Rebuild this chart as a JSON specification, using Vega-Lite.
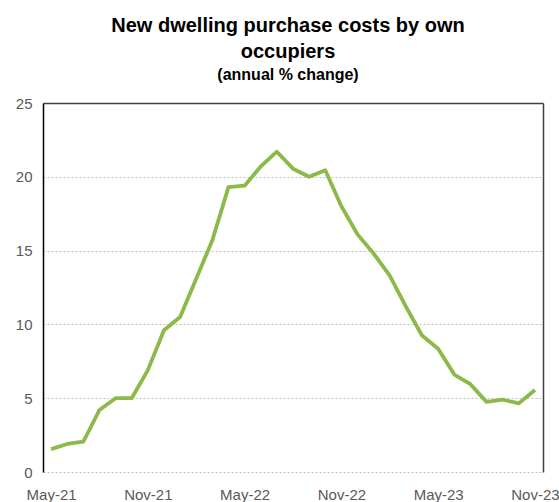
{
  "$schema": "https://vega.github.io/schema/vega-lite/v6.json",
  "width": 500,
  "height": 369,
  "autosize": {"type": "none"},
  "padding": {"left": 43, "top": 103, "right": 16, "bottom": 30},
  "background": "white",
  "title": {
    "text": ["New dwelling purchase costs by own", "occupiers"],
    "subtitle": "(annual % change)",
    "anchor": "middle",
    "dx": -5,
    "font": "Liberation Sans",
    "fontSize": 20,
    "fontWeight": "bold",
    "color": "#000000",
    "lineHeight": 26,
    "subtitleFont": "Liberation Sans",
    "subtitleFontSize": 16,
    "subtitleFontWeight": "bold",
    "subtitleColor": "#000000",
    "subtitlePadding": 5,
    "offset": 13
  },
  "config": {
    "view": {"stroke": null},
    "axis": {"labelFont": "Liberation Sans", "labelColor": "#595959", "labelFontSize": 15}
  },
  "data": {
    "values": [
      {"month": "May-21", "value": 1.55},
      {"month": "Jun-21", "value": 1.9},
      {"month": "Jul-21", "value": 2.05},
      {"month": "Aug-21", "value": 4.2},
      {"month": "Sep-21", "value": 5.0},
      {"month": "Oct-21", "value": 5.0},
      {"month": "Nov-21", "value": 6.9},
      {"month": "Dec-21", "value": 9.6},
      {"month": "Jan-22", "value": 10.5},
      {"month": "Feb-22", "value": 13.1},
      {"month": "Mar-22", "value": 15.7},
      {"month": "Apr-22", "value": 19.3},
      {"month": "May-22", "value": 19.4},
      {"month": "Jun-22", "value": 20.7},
      {"month": "Jul-22", "value": 21.7},
      {"month": "Aug-22", "value": 20.55},
      {"month": "Sep-22", "value": 20.0},
      {"month": "Oct-22", "value": 20.45},
      {"month": "Nov-22", "value": 18.0},
      {"month": "Dec-22", "value": 16.1},
      {"month": "Jan-23", "value": 14.8},
      {"month": "Feb-23", "value": 13.3},
      {"month": "Mar-23", "value": 11.2},
      {"month": "Apr-23", "value": 9.25},
      {"month": "May-23", "value": 8.35},
      {"month": "Jun-23", "value": 6.6},
      {"month": "Jul-23", "value": 5.95},
      {"month": "Aug-23", "value": 4.75},
      {"month": "Sep-23", "value": 4.9},
      {"month": "Oct-23", "value": 4.65},
      {"month": "Nov-23", "value": 5.55}
    ]
  },
  "layer": [
    {
      "mark": {"type": "line", "color": "#8db84a", "strokeWidth": 3.8, "strokeJoin": "round"},
      "encoding": {
        "x": {
          "field": "month", "type": "ordinal", "sort": null,
          "scale": {"type": "point", "padding": 0.5},
          "axis": {
            "orient": "bottom", "title": null, "values": ["May-21", "Nov-21", "May-22", "Nov-22", "May-23", "Nov-23"],
            "labelAngle": 0, "ticks": false, "domain": false, "grid": false, "labelPadding": 15
          }
        },
        "y": {
          "field": "value", "type": "quantitative",
          "scale": {"domain": [0, 25], "nice": false},
          "axis": {
            "orient": "left", "title": null, "values": [0, 5, 10, 15, 20, 25],
            "ticks": false, "domain": true, "domainColor": "#000000", "domainWidth": 1.5,
            "grid": true, "gridColor": "#c0c0c0", "gridDash": [2, 2], "gridWidth": 1,
            "labelPadding": 11
          }
        }
      }
    },
    {
      "mark": {"type": "line", "strokeOpacity": 0},
      "encoding": {
        "x": {
          "field": "month", "type": "ordinal", "sort": null,
          "axis": {"orient": "top", "title": null, "labels": false, "ticks": false, "domain": true, "domainColor": "#404040", "domainWidth": 1.5, "grid": false}
        },
        "y": {
          "field": "value", "type": "quantitative",
          "axis": {"orient": "right", "title": null, "labels": false, "ticks": false, "domain": true, "domainColor": "#404040", "domainWidth": 1.5, "grid": false}
        }
      }
    }
  ],
  "resolve": {"axis": {"x": "independent", "y": "independent"}}
}
